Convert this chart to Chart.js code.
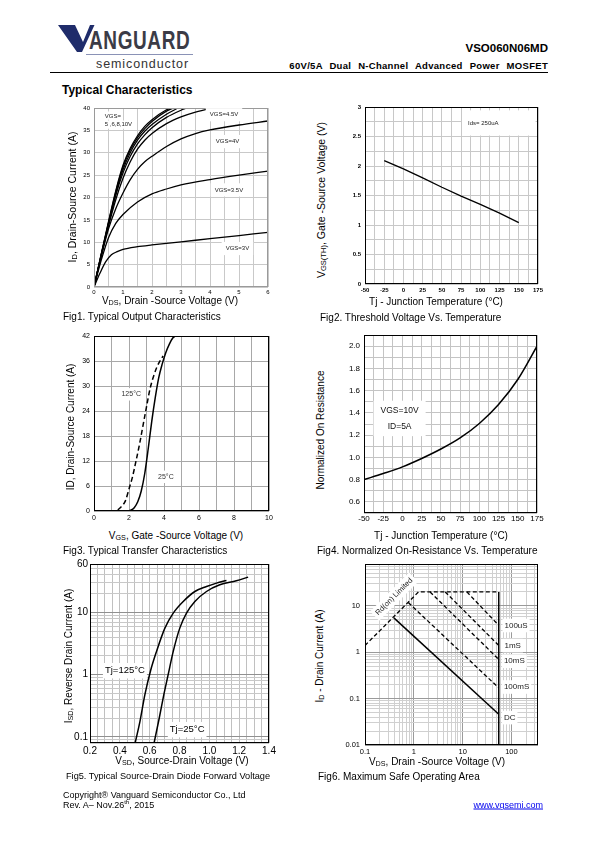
<!DOCTYPE html>
<html><head><meta charset="utf-8">
<script src="https://cdn.jsdelivr.net/npm/chart.js@4.4.1/dist/chart.umd.min.js"></script>
<style>
html,body{margin:0;padding:0;background:#fff}
body{width:595px;height:842px;position:relative;overflow:hidden;font-family:'Liberation Sans',Arial,Helvetica,sans-serif;color:#000}
.a{position:absolute;white-space:nowrap;line-height:1}
.l{transform:translateY(-50%)}
.c{transform:translate(-50%,-50%)}
.r{transform:translate(-50%,-50%) rotate(-90deg)}
.sb{font-size:72%;position:relative;top:0.12em}
canvas{position:absolute}
</style></head><body>
<svg class="a" style="left:56px;top:24px" width="45" height="32"><polygon points="2,1 19,1 27,18 34,1 38.5,1 26,28 21,28" fill="#1f2c6a"/></svg>
<div class="a" style="left:89px;top:28px;font-size:25px;font-weight:bold;color:#3b3b46;transform:scaleX(0.76);transform-origin:left top;letter-spacing:0.8px">ANGUARD</div>
<div class="a" style="left:86px;top:54px;width:107px;height:1px;background:#8a92b6"></div>
<div class="a" style="left:96px;top:58px;font-size:12.5px;letter-spacing:0.9px;color:#333">semiconductor</div>
<div class="a" style="right:47px;top:43px;font-size:11.5px;font-weight:bold">VSO060N06MD</div>
<div class="a" style="right:47px;top:61px;font-size:9.5px;font-weight:bold;word-spacing:4px;letter-spacing:0.3px">60V/5A Dual N-Channel Advanced Power MOSFET</div>
<div class="a" style="left:50px;top:72px;width:498px;height:1px;background:#000"></div>
<div class="a" style="left:62px;top:84px;font-size:12px;font-weight:bold">Typical Characteristics</div>

<canvas id="c1"></canvas><canvas id="c2"></canvas><canvas id="c3"></canvas>
<canvas id="c4"></canvas><canvas id="c5"></canvas><canvas id="c6"></canvas>

<div class="a r" style="left:72px;top:197px;font-size:10.5px">I<span class="sb">D</span>, Drain-Source Current (A)</div>
<div class="a c" style="left:170px;top:301px;font-size:10px">V<span class="sb">DS</span>, Drain -Source Voltage (V)</div>
<div class="a l" style="left:63px;top:317px;font-size:10px">Fig1. Typical Output Characteristics</div>

<div class="a r" style="left:321px;top:200px;font-size:10.5px">V<span class="sb">GS(TH)</span>, Gate -Source Voltage (V)</div>
<div class="a c" style="left:436px;top:302px;font-size:10px">Tj - Junction Temperature (°C)</div>
<div class="a l" style="left:320px;top:318px;font-size:10px">Fig2. Threshold Voltage Vs. Temperature</div>

<div class="a r" style="left:71px;top:427px;font-size:10px">ID, Drain-Source Current (A)</div>
<div class="a c" style="left:176px;top:536px;font-size:10px">V<span class="sb">GS</span>, Gate -Source Voltage (V)</div>
<div class="a l" style="left:63px;top:551px;font-size:10px">Fig3. Typical Transfer Characteristics</div>

<div class="a r" style="left:321px;top:430px;font-size:10px">Normalized On Resistance</div>
<div class="a c" style="left:441px;top:536px;font-size:10px">Tj - Junction Temperature (°C)</div>
<div class="a l" style="left:317px;top:551px;font-size:10px">Fig4. Normalized On-Resistance Vs. Temperature</div>

<div class="a r" style="left:69px;top:656px;font-size:10px">I<span class="sb">SD</span>, Reverse Drain Current (A)</div>
<div class="a c" style="left:182px;top:761px;font-size:10px">V<span class="sb">SD</span>, Source-Drain Voltage (V)</div>
<div class="a l" style="left:66px;top:777px;font-size:9.2px">Fig5. Typical Source-Drain Diode Forward Voltage</div>

<div class="a r" style="left:320px;top:656px;font-size:10px">I<span class="sb">D</span> - Drain Current (A)</div>
<div class="a c" style="left:437px;top:762px;font-size:10px">V<span class="sb">DS</span>, Drain -Source Voltage (V)</div>
<div class="a l" style="left:318px;top:777px;font-size:10px">Fig6. Maximum Safe Operating Area</div>

<div class="a l" style="left:63px;top:795px;font-size:9px">Copyright® Vanguard Semiconductor Co., Ltd</div>
<div class="a l" style="left:63px;top:804px;font-size:9px">Rev. A– Nov.26<sup style="font-size:6px">th</sup>, 2015</div>
<div class="a l" style="right:52px;top:805px;font-size:9px;color:#0000ee;text-decoration:underline">www.vgsemi.com</div>

<script>
// ===================== DATA =====================
// Fig1: Typical output characteristics (VDS [V] vs ID [A]) for each VGS
const fig1Vds_3V   = [0,0.2,0.4,0.6,0.8,1,1.5,2,3,4,5,6];
const fig1Id_3V    = [0,3,5.6,7.2,7.9,8.4,9.0,9.4,10.1,10.8,11.5,12.2];
const fig1Vds_3p5V = [0,0.25,0.5,0.75,1,1.5,2,2.5,3,4,5,6];
const fig1Id_3p5V  = [0,6,11,14.2,16.2,19,20.8,21.9,22.8,24,25,25.9];
const fig1Vds_4V   = [0,0.25,0.5,0.75,1,1.25,1.5,1.75,2,2.5,3,3.5,4,5,6];
const fig1Id_4V    = [0,6.8,13,17.5,21,24,26.3,28,29.2,31.4,33.1,34.3,35.1,36.2,37.1];
const fig1Vds_4p5V = [0,0.25,0.5,0.75,1,1.25,1.5,1.75,2,2.5,3,3.5,4,4.2];
const fig1Id_4p5V  = [0,7,13.6,19.5,24.3,28,30.8,32.8,34.3,36.5,38,39.1,39.8,40];
const fig1Vds_5V   = [0,0.25,0.5,0.75,1,1.25,1.5,1.75,2,2.5,3,3.2];
const fig1Id_5V    = [0,7.1,14,20.5,25.5,29.2,32,34,35.6,37.9,39.5,40];
const fig1Vds_6V   = [0,0.25,0.5,0.75,1,1.25,1.5,1.75,2,2.5,2.9];
const fig1Id_6V    = [0,7.2,14.2,20.8,26.2,30,32.8,34.8,36.3,38.6,40];
const fig1Vds_8V   = [0,0.25,0.5,0.75,1,1.25,1.5,1.75,2,2.5,2.75];
const fig1Id_8V    = [0,7.3,14.4,21.2,26.8,30.6,33.4,35.4,37,39.3,40];
const fig1Vds_10V  = [0,0.25,0.5,0.75,1,1.25,1.5,1.75,2,2.5,2.65];
const fig1Id_10V   = [0,7.4,14.6,21.5,27.2,31,33.8,35.9,37.4,39.6,40];
const fig1XTicks = [0,1,2,3,4,5,6];
const fig1YTicks = [0,5,10,15,20,25,30,35,40];

// Fig2: threshold voltage vs temperature
const fig2Tj  = [-25,0,25,50,75,100,125,150];
const fig2Vth = [2.09,1.95,1.8,1.64,1.49,1.35,1.2,1.04];
const fig2XTicks = [-50,-25,0,25,50,75,100,125,150,175];
const fig2YTicks = [0,0.5,1,1.5,2,2.5,3];

// Fig3: transfer characteristics
const fig3Vgs_25C  = [0,1.9,2.1,2.3,2.5,2.7,2.9,3.1,3.3,3.5,3.7,3.9,4.1,4.3,4.5,4.65];
const fig3Id_25C   = [0,0,0.2,0.8,2.2,4.8,9,15,21.5,27.2,32,35.3,38,40,41.5,42];
const fig3Vgs_125C = [0,1.2,1.5,1.8,2.0,2.2,2.4,2.6,2.8,3.0,3.2,3.4,3.6,3.8,3.95];
const fig3Id_125C  = [0,0,0.8,2.5,5.3,8.2,12,16,20.5,25,29.3,32.3,34.6,36.2,37.2];
const fig3XTicks = [0,2,4,6,8,10];
const fig3YTicks = [0,6,12,18,24,30,36,42];

// Fig4: normalized on-resistance vs temperature
const fig4Tj  = [-50,-25,0,25,50,75,100,125,150,175];
const fig4Rds = [0.8,0.855,0.915,0.99,1.075,1.175,1.305,1.475,1.7,2.0];
const fig4XTicks = [-50,-25,0,25,50,75,100,125,150,175];
const fig4YTicks = [0.6,0.8,1.0,1.2,1.4,1.6,1.8,2.0];

// Fig5: source-drain diode forward voltage
const fig5Vsd_125C = [0.501,0.535,0.568,0.606,0.646,0.702,0.758,0.825,0.903,0.981,1.048,1.115];
const fig5Isd_125C = [0.077,0.178,0.478,1.16,2.37,5.6,9.76,15,21.7,26.1,29.6,32.6];
const fig5Vsd_25C  = [0.628,0.664,0.695,0.724,0.758,0.802,0.847,0.903,0.981,1.07,1.181,1.26];
const fig5Isd_25C  = [0.077,0.2,0.478,1.0,2.37,5.6,9.76,15,21.7,27.8,32.2,36.9];
const fig5XTicks = [0.2,0.4,0.6,0.8,1.0,1.2,1.4];
const fig5YTicks = [0.1,1,10,60];

// Fig6: safe operating area
const fig6Vds_limit = [0.1,1.25,55];   const fig6Id_limit = [1.4,20,20];
const fig6Vds_bv    = [55,55];         const fig6Id_bv    = [20,0.01];
const fig6Vds_100us = [12.2,55];       const fig6Id_100us = [20,3.8];
const fig6Vds_1ms   = [4.4,55];        const fig6Id_1ms   = [20,1.4];
const fig6Vds_10ms  = [2.15,55];       const fig6Id_10ms  = [20,0.7];
const fig6Vds_100ms = [0.77,55];       const fig6Id_100ms = [11.8,0.17];
const fig6Vds_dc    = [0.39,55];       const fig6Id_dc    = [5.5,0.046];
const fig6XTicks = [0.1,1,10,100];
const fig6YTicks = [0.01,0.1,1,10];

// ===================== HELPERS =====================
const FONT = "'Liberation Sans', Arial, Helvetica, sans-serif";
const pts = (xs, ys) => xs.map((x, i) => ({x, y: ys[i]}));
function stepGrid(min, max, step) { const o = []; for (let i = 0; min + i*step <= max + 1e-9; i++) o.push(+(min + i*step).toFixed(6)); return o; }
function logGrid(min, max) { const o = []; for (let e = -3; e <= 3; e++) for (let m = 1; m <= 9; m++) { const v = +(m*Math.pow(10, e)).toPrecision(6); if (v >= min*0.999 && v <= max*1.001) o.push(v); } return o; }
const near = (a, b) => Math.abs(a - b) <= 1e-9 * Math.max(1, Math.abs(a));

function axis(o) {
  return {
    type: o.type || 'linear', position: o.pos, min: o.min, max: o.max,
    afterBuildTicks: s => { s.ticks = o.grid.map(v => ({value: v})); },
    afterFit: s => { if (o.pos === 'left') s.width = o.size; else s.height = o.size; },
    ticks: {
      autoSkip: false, maxRotation: 0, minRotation: 0, padding: o.pad, color: '#000',
      font: {family: FONT, size: o.fontSize, weight: o.weight || 'normal'},
      callback: v => { const l = o.labels.find(t => near(t, v)); return l === undefined ? '' : o.fmt(l); }
    },
    grid: { drawTicks: false, lineWidth: 1,
      color: c => (c.tick && o.labels.some(t => near(t, c.tick.value))) ? (o.major || o.minor) : o.minor },
    border: { display: false }
  };
}

const framePlugin = { id: 'frame', afterDatasetsDraw(chart, args, opts) {
  const a = chart.chartArea, c = chart.ctx;
  c.save(); c.strokeStyle = opts.color || '#000'; c.lineWidth = 1;
  c.strokeRect(Math.round(a.left) + 0.5, Math.round(a.top) + 0.5, Math.round(a.right - a.left) - 1, Math.round(a.bottom - a.top) - 1);
  c.restore();
}};

const notesPlugin = { id: 'notes', afterDraw(chart, args, opts) {
  const ctx = chart.ctx, xs = chart.scales.x, ys = chart.scales.y;
  (opts.items || []).forEach(n => {
    const px = xs.getPixelForValue(n.x), py = ys.getPixelForValue(n.y);
    ctx.save(); ctx.translate(px, py);
    if (n.rotate) ctx.rotate(n.rotate * Math.PI / 180);
    ctx.font = (n.weight || 'normal') + ' ' + n.size + 'px ' + FONT;
    const lines = n.text.split('\n'), lh = n.lh || n.size * 1.2;
    const w = Math.max(...lines.map(t => ctx.measureText(t).width)), h = lh * lines.length;
    const align = n.align || 'left';
    const x0 = align === 'left' ? 0 : align === 'center' ? -w/2 : -w, y0 = -h/2;
    if (n.bg !== false) { const p = n.pad || [2,1,2,1]; ctx.fillStyle = '#fff'; ctx.fillRect(x0 - p[0], y0 - p[1], w + p[0] + p[2], h + p[1] + p[3]); }
    ctx.fillStyle = n.color || '#000'; ctx.textAlign = align; ctx.textBaseline = 'middle';
    lines.forEach((t, i) => ctx.fillText(t, 0, y0 + lh * (i + 0.5)));
    ctx.restore();
  });
}};

function curve(xs, ys, extra) {
  return Object.assign({ data: pts(xs, ys), showLine: true, borderColor: '#000', backgroundColor: '#000',
    borderWidth: 1.3, pointRadius: 0, fill: false, cubicInterpolationMode: 'monotone' }, extra || {});
}
function straight(xs, ys, extra) { return curve(xs, ys, Object.assign({cubicInterpolationMode: 'default', tension: 0}, extra || {})); }

function makeChart(id, plot, cfg) {
  const cv = document.getElementById(id);
  const bx = Math.floor(plot.l - 32), by = Math.floor(plot.t - 10);
  const bw = Math.ceil(plot.r + 16) - bx, bh = Math.ceil(plot.b + 18) - by;
  cv.width = bw; cv.height = bh; cv.style.width = bw + 'px'; cv.style.height = bh + 'px';
  cv.style.left = bx + 'px'; cv.style.top = by + 'px';
  const yW = plot.l - bx, xH = by + bh - plot.b, pT = plot.t - by, pR = bx + bw - plot.r;
  return new Chart(cv, {
    type: 'scatter',
    data: { datasets: cfg.datasets },
    options: {
      responsive: false, animation: false, devicePixelRatio: 1,
      layout: { padding: { top: pT, right: pR, left: 0, bottom: 0 } },
      plugins: { legend: {display: false}, tooltip: {enabled: false},
        frame: { color: cfg.frame || '#000' }, notes: { items: cfg.notes || [] } },
      scales: { x: axis(Object.assign({pos: 'bottom', size: xH}, cfg.x)), y: axis(Object.assign({pos: 'left', size: yW}, cfg.y)) }
    },
    plugins: [framePlugin, notesPlugin]
  });
}
const S = v => String(v);

// ===================== CHARTS =====================
makeChart('c1', {l:94, t:108, r:268, b:287}, {
  frame: '#9a9a9a',
  datasets: [
    curve(fig1Vds_3V, fig1Id_3V), curve(fig1Vds_3p5V, fig1Id_3p5V), curve(fig1Vds_4V, fig1Id_4V),
    curve(fig1Vds_4p5V, fig1Id_4p5V), curve(fig1Vds_5V, fig1Id_5V), curve(fig1Vds_6V, fig1Id_6V),
    curve(fig1Vds_8V, fig1Id_8V), curve(fig1Vds_10V, fig1Id_10V)
  ],
  x: {min: 0, max: 6, grid: stepGrid(0, 6, 0.5), labels: fig1XTicks, fmt: S, fontSize: 6, pad: 2, minor: '#c9c9c9'},
  y: {min: 0, max: 40, grid: stepGrid(0, 40, 5), labels: fig1YTicks, fmt: S, fontSize: 6, pad: 4, minor: '#c9c9c9'},
  notes: [
    {x: 0.37, y: 38.2, text: 'VGS=', size: 6, color: '#222', pad: [2,1,2,0]},
    {x: 0.37, y: 36.4, text: '5 ,6,8,10V', size: 6, color: '#222', pad: [2,0,2,1]},
    {x: 3.99, y: 38.5, text: 'VGS=4.5V', size: 6, color: '#222', pad: [4,3,4,3]},
    {x: 4.2, y: 32.5, text: 'VGS=4V', size: 6, color: '#222', pad: [4,3,4,3]},
    {x: 4.16, y: 21.7, text: 'VGS=3.5V', size: 6, color: '#222', pad: [4,3,4,3]},
    {x: 4.54, y: 8.6, text: 'VGS=3V', size: 6, color: '#222', pad: [4,3,4,3]}
  ]
});

makeChart('c2', {l:365, t:107, r:538, b:284}, {
  datasets: [ straight(fig2Tj, fig2Vth) ],
  x: {min: -50, max: 175, grid: stepGrid(-50, 175, 12.5), labels: fig2XTicks, fmt: S, fontSize: 6, pad: 3, minor: '#c8c8c8', weight: 'bold'},
  y: {min: 0, max: 3, grid: stepGrid(0, 3, 0.25), labels: fig2YTicks, fmt: S, fontSize: 6, pad: 4, minor: '#c8c8c8', weight: 'bold'},
  notes: [ {x: 84, y: 2.73, text: 'Ids= 250uA', size: 6, color: '#222', pad: [6,9,37,9]} ]
});

makeChart('c3', {l:94, t:336, r:269, b:511}, {
  datasets: [
    curve(fig3Vgs_25C, fig3Id_25C, {borderWidth: 1.5}),
    curve(fig3Vgs_125C, fig3Id_125C, {borderWidth: 1.5, borderDash: [5,3]})
  ],
  x: {min: 0, max: 10, grid: stepGrid(0, 10, 1), labels: fig3XTicks, fmt: S, fontSize: 7, pad: 3, minor: '#a8a8a8'},
  y: {min: 0, max: 42, grid: stepGrid(0, 42, 6), labels: fig3YTicks, fmt: S, fontSize: 7, pad: 4, minor: '#a8a8a8'},
  notes: [
    {x: 1.57, y: 28, text: '125°C', size: 7, color: '#333', pad: [3,2,3,2]},
    {x: 3.66, y: 8.2, text: '25°C', size: 7, color: '#333', pad: [3,2,3,2]}
  ]
});

makeChart('c4', {l:364, t:335, r:537, b:513}, {
  datasets: [ curve(fig4Tj, fig4Rds, {borderWidth: 1.5}) ],
  x: {min: -50, max: 175, grid: stepGrid(-50, 175, 12.5), labels: fig4XTicks, fmt: S, fontSize: 8, pad: 1, minor: '#c4c4c4'},
  y: {min: 0.5, max: 2.1, grid: stepGrid(0.5, 2.1, 0.1), labels: fig4YTicks, fmt: v => v.toFixed(1), fontSize: 8, pad: 4, minor: '#c4c4c4'},
  notes: [ {x: -3.7, y: 1.35, text: 'VGS=10V\nID=5A', align: 'center', size: 8.5, lh: 15.7, color: '#111', pad: [7,2,7,2]} ]
});

makeChart('c5', {l:90, t:564, r:269, b:743}, {
  datasets: [
    curve(fig5Vsd_125C, fig5Isd_125C, {borderWidth: 1.5}),
    curve(fig5Vsd_25C, fig5Isd_25C, {borderWidth: 1.5})
  ],
  x: {min: 0.2, max: 1.4, grid: stepGrid(0.2, 1.4, 0.05), labels: fig5XTicks, fmt: v => v.toFixed(1), fontSize: 10, pad: 2, minor: '#c0c0c0'},
  y: {type: 'logarithmic', min: 0.08, max: 60, grid: logGrid(0.08, 60), labels: fig5YTicks, fmt: S, fontSize: 10, pad: 2, minor: '#c8c8c8', major: '#909090'},
  notes: [
    {x: 0.3, y: 1.16, text: 'Tj=125°C', size: 9.5, pad: [2,2,2,2]},
    {x: 0.735, y: 0.131, text: 'Tj=25°C', size: 9.5, pad: [2,2,2,2]}
  ]
});

makeChart('c6', {l:365, t:564, r:538, b:745}, {
  datasets: [
    straight(fig6Vds_limit, fig6Id_limit, {borderWidth: 1.3, borderDash: [4,2.5]}),
    straight(fig6Vds_bv, fig6Id_bv, {borderWidth: 1.5}),
    straight(fig6Vds_100us, fig6Id_100us, {borderWidth: 1.3, borderDash: [4,2.5]}),
    straight(fig6Vds_1ms, fig6Id_1ms, {borderWidth: 1.3, borderDash: [4,2.5]}),
    straight(fig6Vds_10ms, fig6Id_10ms, {borderWidth: 1.3, borderDash: [4,2.5]}),
    straight(fig6Vds_100ms, fig6Id_100ms, {borderWidth: 1.3, borderDash: [4,2.5]}),
    straight(fig6Vds_dc, fig6Id_dc, {borderWidth: 1.5})
  ],
  x: {type: 'logarithmic', min: 0.1, max: 350, grid: logGrid(0.1, 350), labels: fig6XTicks, fmt: S, fontSize: 7.5, pad: 2, minor: '#d0d0d0', major: '#9a9a9a'},
  y: {type: 'logarithmic', min: 0.01, max: 80, grid: logGrid(0.01, 80), labels: fig6YTicks, fmt: S, fontSize: 7.5, pad: 5, minor: '#d0d0d0', major: '#9a9a9a'},
  notes: [
    {x: 0.395, y: 15.8, text: 'Rd(on) Limited', size: 7.5, rotate: -45, align: 'center', color: '#222', pad: [3,2,3,2]},
    {x: 72, y: 3.78, text: '100uS', size: 8, color: '#222', pad: [2,2,2,2]},
    {x: 72, y: 1.39, text: '1mS', size: 8, color: '#222', pad: [2,2,2,2]},
    {x: 70, y: 0.64, text: '10mS', size: 8, color: '#222', pad: [2,2,2,2]},
    {x: 70, y: 0.178, text: '100mS', size: 8, color: '#222', pad: [2,2,2,2]},
    {x: 70, y: 0.039, text: 'DC', size: 8, color: '#222', pad: [2,2,2,2]}
  ]
});
</script>
</body></html>
